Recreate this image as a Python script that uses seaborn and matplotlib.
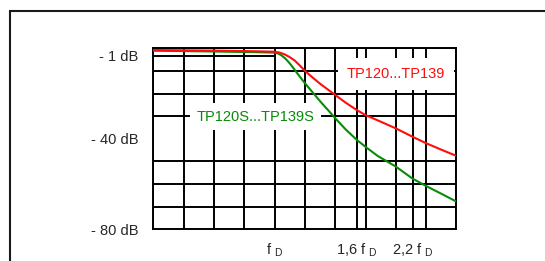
import matplotlib
matplotlib.use("Agg")
import matplotlib.pyplot as plt
import matplotlib.ticker as mticker
from matplotlib.patches import Rectangle
import pandas as pd
import seaborn as sns

# frequencies in units of f_D, attenuation in dB
freq_red = [0.5, 0.7, 0.9, 1.0, 1.03, 1.06, 1.09, 1.12, 1.155, 1.19, 1.25, 1.3, 1.36, 1.414,
            1.5, 1.6, 1.68, 1.8, 2.0, 2.2, 2.38, 2.6, 2.83]
db_red = [-0.75, -1.0, -1.3, -1.5, -1.9, -2.7, -3.9, -5.3, -7.6, -10.0, -13.3, -15.8, -18.4, -20.6,
          -24.0, -27.3, -29.5, -31.8, -35.4, -39.1, -42.0, -44.9, -47.6]

freq_green = [0.5, 0.7, 0.9, 1.0, 1.02, 1.04, 1.06, 1.08, 1.1, 1.14, 1.19, 1.25, 1.3, 1.36, 1.414,
              1.5, 1.6, 1.68, 1.8, 2.0, 2.2, 2.38, 2.6, 2.83]
db_green = [-1.06, -1.4, -1.7, -1.9, -2.3, -3.1, -4.3, -5.8, -7.5, -11.2, -15.5, -20.0, -23.6, -27.5, -30.9,
            -35.8, -40.5, -43.5, -47.5, -52.3, -57.6, -60.9, -64.4, -67.8]

series_names = ["TP120...TP139", "TP120S...TP139S"]
series_colors = ["#ff0d0d", "#078c07"]

x_ticks = [1.0, 1.6, 2.2]
x_ticklabels = [r"f $_\mathregular{D}$", r"1,6 f $_\mathregular{D}$", r"2,2 f $_\mathregular{D}$"]
y_ticks = [-3.3, -40, -80]
y_ticklabels = ["- 1 dB", "- 40 dB", "- 80 dB"]

grid_x = [0.5, 0.595, 0.707, 0.841, 1.0, 1.189, 1.414, 1.682, 2.0, 2.378, 2.828]
grid_y = [0, -10, -20, -30, -40, -50, -60, -70, -80]

df = pd.concat([
    pd.DataFrame({"f": freq_green, "dB": db_green, "typ": series_names[1]}),
    pd.DataFrame({"f": freq_red, "dB": db_red, "typ": series_names[0]}),
])

sns.set_style("white")
plt.rcParams["font.family"] = ["Liberation Sans", "DejaVu Sans"]
plt.rcParams["mathtext.fontset"] = "custom"
plt.rcParams["mathtext.rm"] = "Liberation Sans"

fig = plt.figure(figsize=(5.45, 2.61), dpi=100)
ax = fig.add_axes([0.2813, 0.1215, 0.5563, 0.6934])

# outer frame, runs off the right and bottom edge
fig.patches.append(Rectangle((10 / 545, -0.1), 1.2, 1 - 10.5 / 261 + 0.1,
                             transform=fig.transFigure, fill=False,
                             edgecolor="#1a1a1a", linewidth=1.5))

sns.lineplot(data=df, x="f", y="dB", hue="typ", palette=dict(zip(series_names, series_colors)),
             hue_order=[series_names[1], series_names[0]], linewidth=1.5,
             legend=False, ax=ax, zorder=4, sort=False)

ax.set_xscale("log", base=2)
ax.set_xlim(grid_x[0], grid_x[-1])
ax.set_ylim(grid_y[-1], grid_y[0])

ax.xaxis.set_major_locator(mticker.FixedLocator(x_ticks))
ax.xaxis.set_major_formatter(mticker.FixedFormatter(x_ticklabels))
ax.xaxis.set_minor_locator(mticker.FixedLocator(grid_x))
ax.xaxis.set_minor_formatter(mticker.NullFormatter())
ax.set_yticks(y_ticks)
ax.set_yticklabels(y_ticklabels)
ax.set_yticks(grid_y, minor=True)

ax.set_axisbelow(True)
ax.grid(which="minor", color="black", linewidth=1.4)
ax.grid(which="major", axis="x", color="black", linewidth=1.4)
ax.grid(which="major", axis="y", visible=False)
ax.hlines(y_ticks[0], grid_x[0], x_ticks[0], color="black", linewidth=1.4, zorder=1)

ax.tick_params(which="minor", length=0)
ax.tick_params(axis="y", which="major", length=5.5, width=1.4, pad=5.3, labelsize=10.5, color="black")
ax.tick_params(axis="x", which="major", length=6.3, width=1.4, pad=2.0, labelsize=10.5, color="black")

for s in ax.spines.values():
    s.set_color("black")
    s.set_linewidth(1.4)

ax.set_xlabel("")
ax.set_ylabel("")

ax.text(2.0, -11.4, series_names[0], color=series_colors[0], fontsize=10.5,
        ha="center", va="center", zorder=3,
        bbox=dict(boxstyle="square,pad=0.6", facecolor="white", edgecolor="none"))
ax.text(0.897, -30.2, series_names[1], color=series_colors[1], fontsize=10.5,
        ha="center", va="center", zorder=3,
        bbox=dict(boxstyle="square,pad=0.45", facecolor="white", edgecolor="none"))

fig.savefig("out.png", dpi=100)
